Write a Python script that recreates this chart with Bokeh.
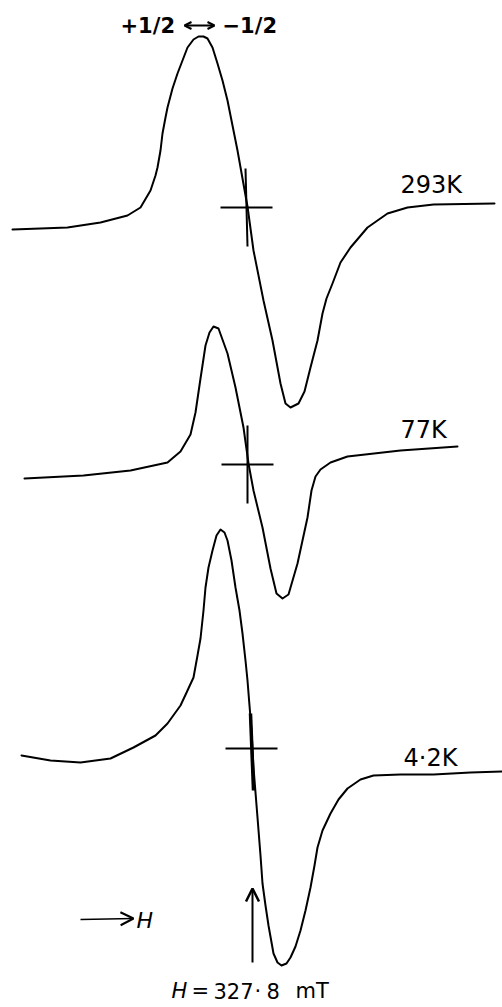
from bokeh.plotting import figure
from bokeh.models import Range1d, Arrow, OpenHead
from bokeh.core.properties import value
from bokeh.embed import file_html
from bokeh.resources import INLINE

# ---- data (field in arbitrary units, derivative signal in arbitrary units) ----
field_293 = [12, 40, 67, 100, 127, 140, 150, 155, 157, 160, 162, 165, 167, 172, 177, 187, 193, 198, 203,
             207, 212, 217, 222, 227, 237, 247, 253, 263, 272, 280, 285, 290, 298, 304, 310, 317, 322, 326,
             332, 340, 350, 367, 387, 407, 433, 494]
signal_293 = [-22, -21, -20, -15, -8, 0, 17, 32, 40, 57, 74, 90, 100, 119, 134, 160, 168, 171, 171,
              169, 160, 144, 127, 107, 57, 1, -43, -93, -133, -176, -196, -200, -196, -184, -160, -133, -106, -91,
              -76, -55, -40, -20, -6, 0, 3, 4]

field_77 = [24, 83, 130, 167, 180, 190, 195, 200, 205, 209, 213, 218, 227, 235, 243, 248, 253, 262,
            270, 276, 282, 288, 297, 307, 311, 315, 320, 330, 347, 400, 457]
signal_77 = [-14, -11, -6, 2, 13, 30, 52, 86, 119, 132, 138, 136, 111, 77, 37, 1, -26, -63,
             -104, -129, -134, -130, -99, -53, -26, -12, -5, 2, 8, 14, 18]

field_4 = [21, 50, 80, 110, 133, 155, 167, 180, 187, 193, 197, 200, 203, 205, 208, 212, 216, 220, 224,
           227, 231, 235, 239, 242, 245, 247, 249, 251, 252, 253, 255, 257, 260, 262, 265, 268, 273, 277,
           281, 286, 290, 295, 300, 305, 310, 314, 317, 322, 330, 338, 347, 360, 373, 400, 433, 470, 502]
signal_4 = [-7, -12, -14, -10, 1, 13, 25, 43, 58, 71, 93, 110, 138, 161, 181, 198, 213, 219, 216,
            208, 188, 161, 138, 115, 88, 68, 43, 18, 0, -19, -44, -69, -107, -135, -157, -177, -205, -214,
            -217, -215, -209, -198, -182, -162, -139, -117, -99, -82, -65, -51, -40, -31, -27, -26, -26, -24, -23]

temps = ["293K", "77K", "4·2K"]
baselines = [800, 543, 259]          # vertical offset of each trace
centre_field = [246, 247, 251]       # field position of the g-marker crosses
label_field = [400, 400, 403]
label_signal = [23, 35, -9]
resonance_parts = ["H", "=", "327", "·", "8", "mT"]
resonance_part_x = [171, 191, 213, 254, 266, 295]

FONT = value("DejaVu Sans")

p = figure(width=502, height=1007, x_range=Range1d(0, 502), y_range=Range1d(0, 1007),
           output_backend="svg", toolbar_location=None, min_border=0,
           x_axis_type=None, y_axis_type=None)
p.outline_line_color = None
p.background_fill_color = "white"
p.border_fill_color = "white"

series = [(field_293, signal_293), (field_77, signal_77), (field_4, signal_4)]
for (fx, sy), base in zip(series, baselines):
    p.line(fx, [base + s for s in sy], line_color="black", line_width=2, line_join="round", line_cap="round")

# crosses marking the zero crossing
half_w = 26
half_h = 39
p.segment(x0=[c - half_w for c in centre_field], y0=baselines,
          x1=[c + half_w for c in centre_field], y1=baselines,
          line_color="black", line_width=2)
p.segment(x0=[centre_field[0] - 1, centre_field[1]], y0=[baselines[0] + half_h, baselines[1] + half_h],
          x1=[centre_field[0] + 1, centre_field[1]], y1=[baselines[0] - half_h, baselines[1] - half_h],
          line_color="black", line_width=2)
p.segment(x0=[centre_field[2] - 1], y0=[baselines[2] + 35], x1=[centre_field[2] + 2], y1=[baselines[2] - 42],
          line_color="black", line_width=3.5)

# temperature labels
p.text(x=label_field, y=[b + s for b, s in zip(baselines, label_signal)], text=temps,
       text_font=FONT, text_font_size="24px", text_baseline="alphabetic", text_align="left", text_color="black")

# top transition label
p.text(x=[120, 222], y=[982, 982], text=["+1/2", "\u22121/2"], text_font=FONT, text_font_size="21px",
       text_baseline="alphabetic", text_align="left", text_color="black", text_font_style="bold")
p.add_layout(Arrow(start=OpenHead(size=7, line_width=2), end=OpenHead(size=7, line_width=2),
                   x_start=184, y_start=982, x_end=214, y_end=982, line_width=2))

# field direction arrow
p.add_layout(Arrow(end=OpenHead(size=13, line_width=2), x_start=80, y_start=88, x_end=133, y_end=89,
                   line_width=1.5))
p.text(x=[136], y=[87], text=["H"], text_font=FONT, text_font_size="22px", text_font_style="italic",
       text_baseline="alphabetic", text_align="left", text_color="black")

# resonance position arrow
p.add_layout(Arrow(end=OpenHead(size=13, line_width=2.5), x_start=252, y_start=45, x_end=252, y_end=119,
                   line_width=2))
p.text(x=resonance_part_x[:1], y=[17], text=resonance_parts[:1], text_font=FONT, text_font_size="21px",
       text_font_style="italic", text_baseline="alphabetic", text_align="left", text_color="black")
p.text(x=resonance_part_x[1:], y=[17] * 5, text=resonance_parts[1:], text_font=FONT, text_font_size="21px",
       text_baseline="alphabetic", text_align="left", text_color="black")

open("out.html", "w").write(file_html(p, INLINE))
